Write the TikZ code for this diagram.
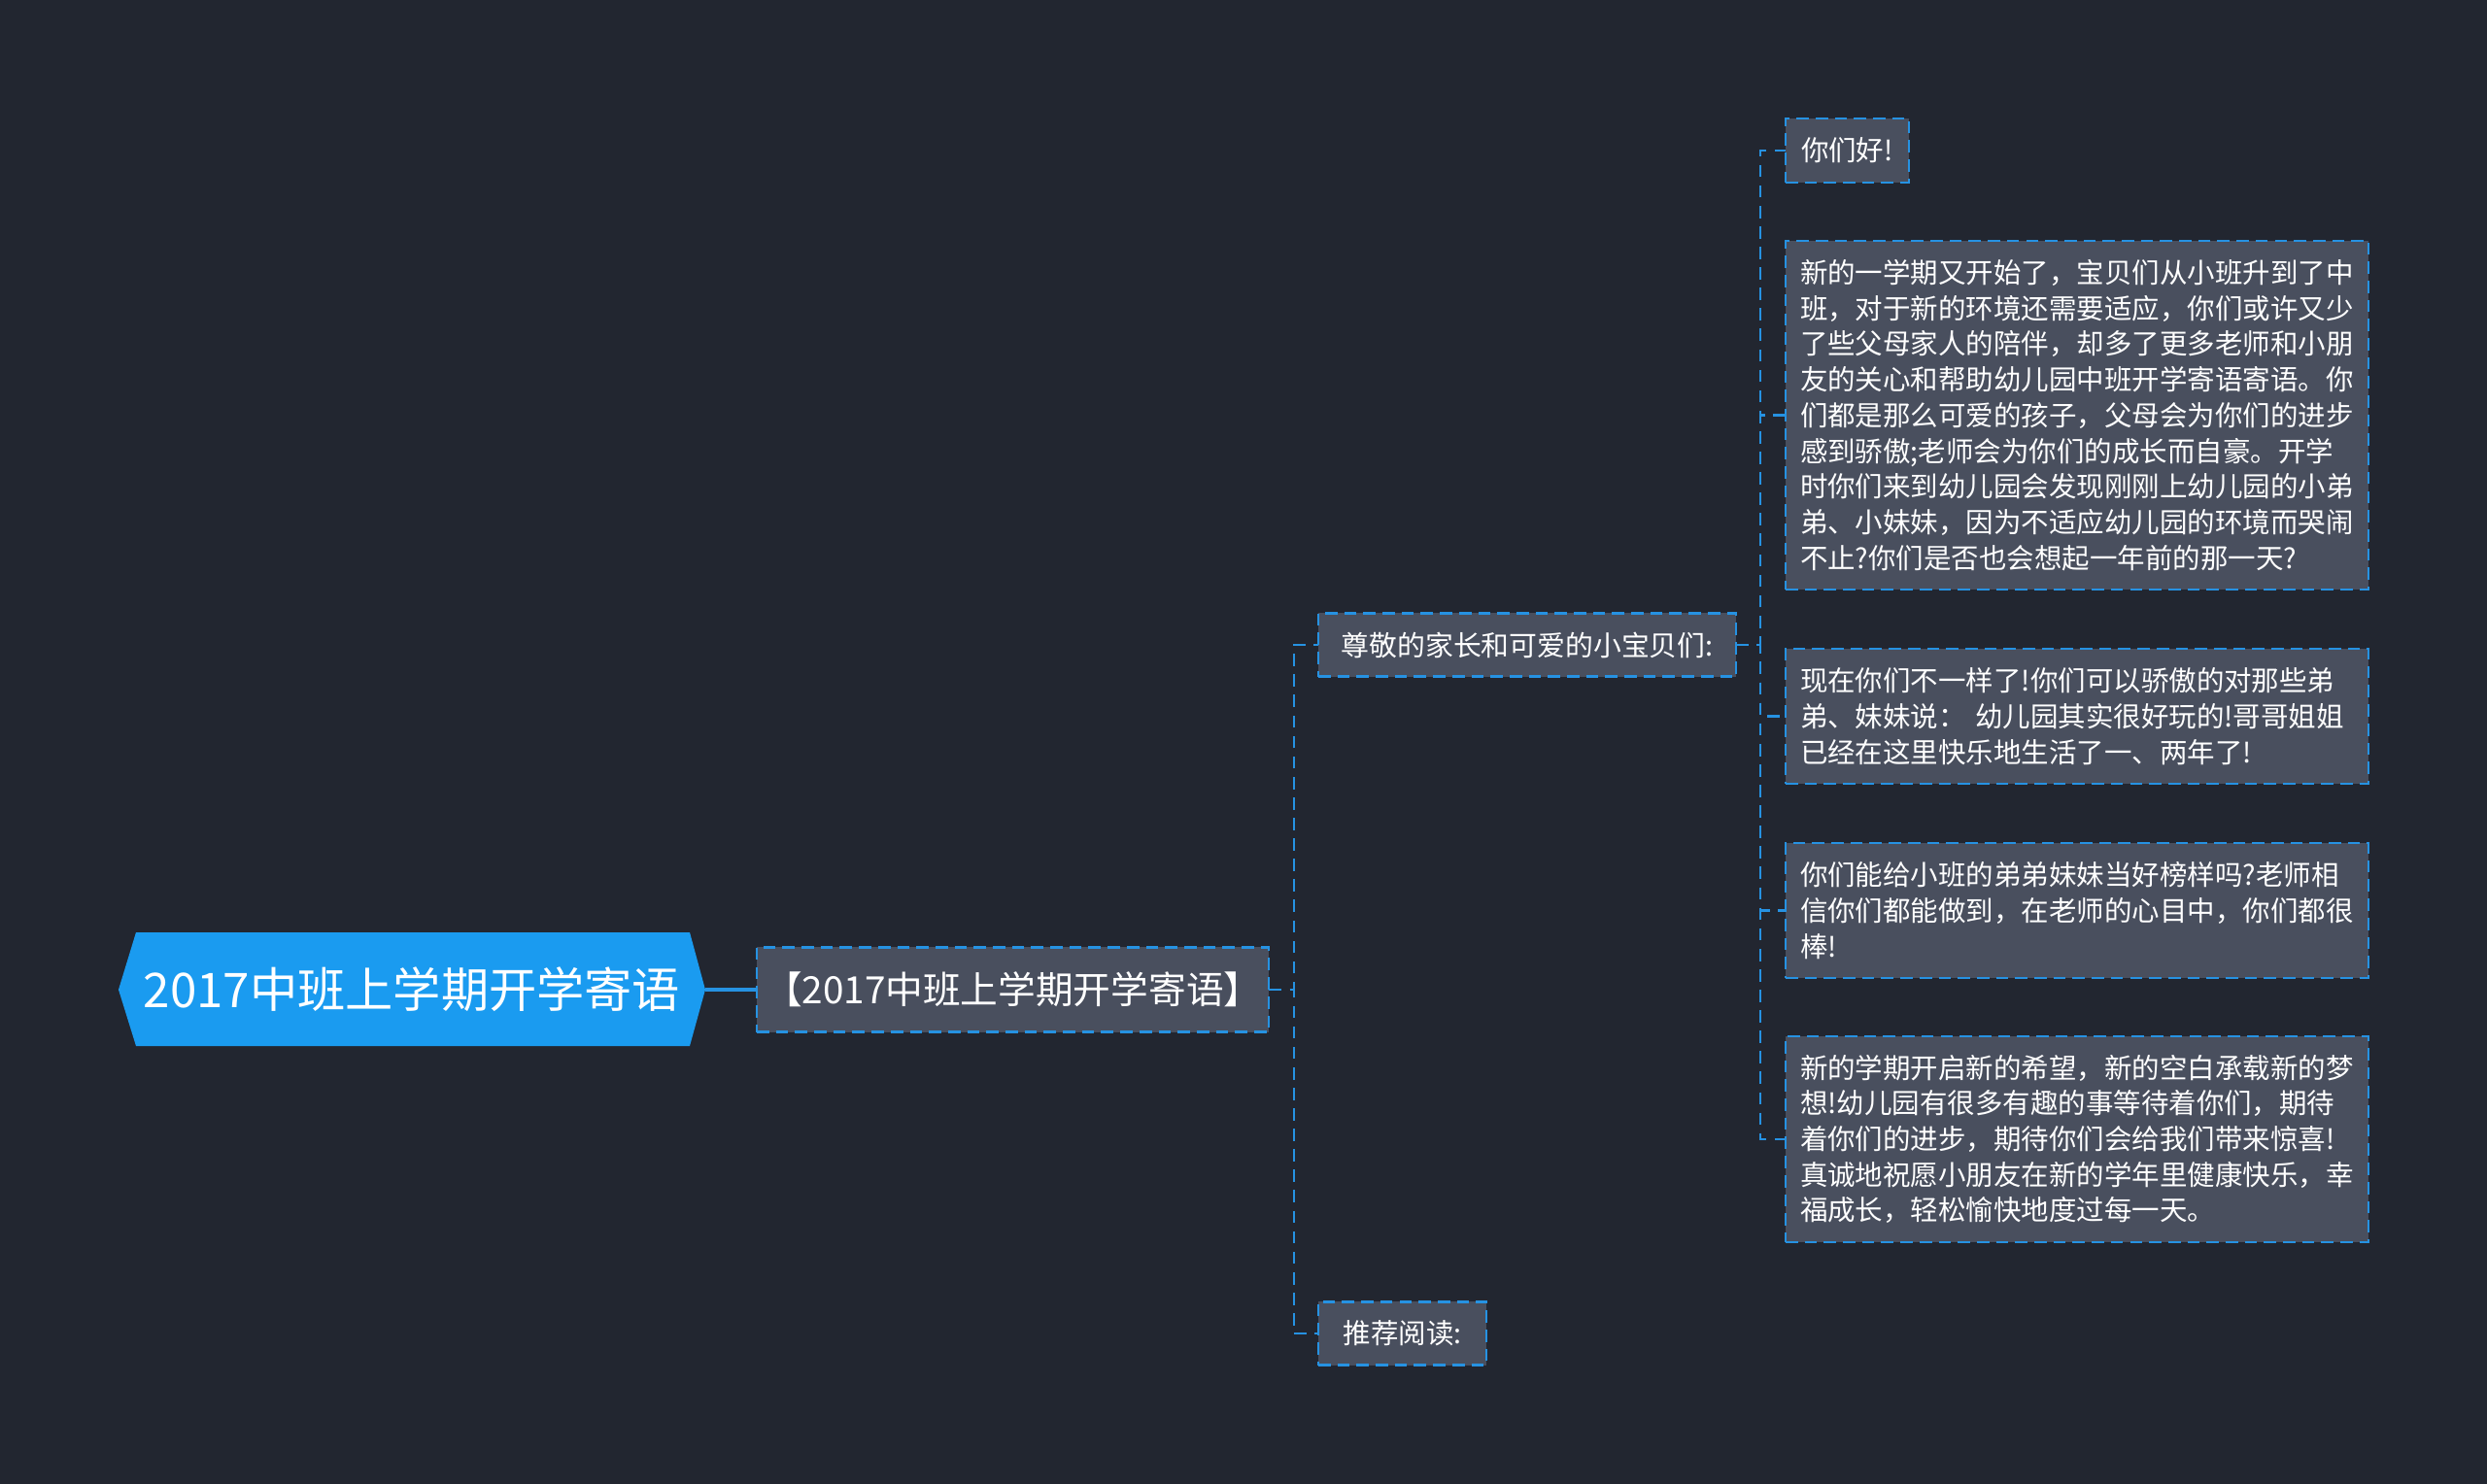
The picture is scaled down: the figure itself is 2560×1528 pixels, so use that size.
\documentclass[tikz,border=0pt]{standalone}
\usepackage{fontspec}
\setmainfont{Noto Sans CJK SC}
\definecolor{bgcol}{RGB}{34,38,48}
\definecolor{boxcol}{RGB}{73,79,94}
\definecolor{linecol}{RGB}{38,146,226}
\definecolor{rootcol}{RGB}{26,155,240}
\begin{document}
\begin{tikzpicture}[x=0.01cm,y=-0.01cm,line cap=butt,line join=miter,
  box/.style={draw=linecol,fill=boxcol,text=white,line width=0.6pt,dash pattern=on 3.6pt off 2pt,
    anchor=west,inner xsep=0.16cm,inner ysep=0pt,outer sep=0pt,
    font=\fontsize{8.1pt}{10.44pt}\selectfont},
  para/.style={box,text width=5.7cm,inner xsep=0.15cm,align=left,minimum width=6cm},
  link/.style={draw=linecol,line width=0.6pt,dash pattern=on 3.6pt off 2.4pt},
  root/.style={text=white,inner sep=0pt,outer sep=0pt,minimum width=6.04cm,minimum height=1.17cm,
    font=\fontsize{14pt}{17pt}\selectfont}]
  \useasboundingbox (0,0) rectangle (2560,1528);
  \fill[bgcol] (0,0) rectangle (2560,1528);
  \coordinate (t1) at (1332,0);
  \coordinate (t2) at (1812,0);

  \fill[rootcol] (122,1019) -- (140,960) -- (710,960) -- (726,1019) -- (710,1077) -- (140,1077) -- cycle;
  \node[root] (root) at (424,1019) {2017中班上学期开学寄语};
  \node[box,minimum width=5.25cm,minimum height=0.87cm,inner xsep=0.08cm,font=\fontsize{11pt}{13pt}\selectfont] (sub) at (779,1019) {【2017中班上学期开学寄语】};

  \node[box,minimum width=4.3cm,minimum height=0.65cm,font=\fontsize{8.2pt}{10pt}\selectfont] (greet) at (1357,664) {尊敬的家长和可爱的小宝贝们:};
  \node[box,minimum width=1.73cm,minimum height=0.65cm] (read) at (1357,1373) {推荐阅读:};

  \node[box,minimum width=1.24cm,minimum height=0.66cm] (hello) at (1838,155) {你们好!};
  \node[para,minimum height=3.59cm] (p1) at (1838,427.5) {新的一学期又开始了，宝贝们从小班升到了中\\班，对于新的环境还需要适应，你们或许又少\\了些父母家人的陪伴，却多了更多老师和小朋\\友的关心和帮助幼儿园中班开学寄语寄语。你\\们都是那么可爱的孩子，父母会为你们的进步\\感到骄傲;老师会为你们的成长而自豪。开学\\时你们来到幼儿园会发现刚刚上幼儿园的小弟\\弟、小妹妹，因为不适应幼儿园的环境而哭闹\\不止?你们是否也会想起一年前的那一天?};
  \node[para,minimum height=1.39cm] (p2) at (1838,737.5) {现在你们不一样了!你们可以骄傲的对那些弟\\弟、妹妹说： 幼儿园其实很好玩的!哥哥姐姐\\已经在这里快乐地生活了一、两年了!};
  \node[para,minimum height=1.39cm] (p3) at (1838,937.5) {你们能给小班的弟弟妹妹当好榜样吗?老师相\\信你们都能做到，在老师的心目中，你们都很\\棒!};
  \node[para,minimum height=2.12cm] (p4) at (1838,1173) {新的学期开启新的希望，新的空白承载新的梦\\想!幼儿园有很多有趣的事等待着你们，期待\\着你们的进步，期待你们会给我们带来惊喜!\\真诚地祝愿小朋友在新的学年里健康快乐，幸\\福成长，轻松愉快地度过每一天。};

  \draw[linecol,line width=0.9pt] (root.east) -- (sub.west);
  \foreach \n in {greet,read}
    \draw[link] (sub.east) -- (sub.east -| t1) |- (\n.west);
  \foreach \n in {hello,p1,p2,p3,p4}
    \draw[link] (greet.east) -- (greet.east -| t2) |- (\n.west);
\end{tikzpicture}
\end{document}
